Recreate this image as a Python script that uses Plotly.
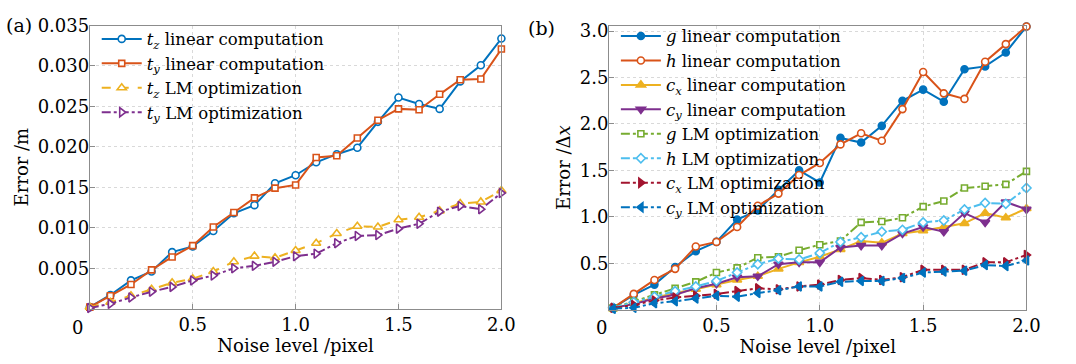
import plotly.graph_objects as go

noise = [0.0, 0.1, 0.2, 0.3, 0.4, 0.5, 0.6, 0.7, 0.8, 0.9, 1.0,
         1.1, 1.2, 1.3, 1.4, 1.5, 1.6, 1.7, 1.8, 1.9, 2.0]

# panel (a)
tz_lin = [0.0002, 0.0017, 0.0035, 0.0046, 0.0070, 0.0077, 0.0096, 0.0118, 0.0128, 0.0155, 0.0165,
          0.0181, 0.0191, 0.0199, 0.0231, 0.0261, 0.0253, 0.0247, 0.0281, 0.0301, 0.0334]
ty_lin = [0.0002, 0.0016, 0.0030, 0.0048, 0.0064, 0.0078, 0.0101, 0.0119, 0.0137, 0.0149, 0.0153,
          0.0187, 0.0189, 0.0211, 0.0233, 0.0247, 0.0246, 0.0265, 0.0283, 0.0284, 0.0321]
tz_lm = [0.0002, 0.0008, 0.0016, 0.0024, 0.0032, 0.0037, 0.0046, 0.0058, 0.0065, 0.0063, 0.0072,
         0.0081, 0.0093, 0.0102, 0.0101, 0.0110, 0.0113, 0.0121, 0.0130, 0.0132, 0.0146]
ty_lm = [0.0001, 0.0006, 0.0014, 0.0021, 0.0027, 0.0035, 0.0041, 0.0050, 0.0053, 0.0058, 0.0065,
         0.0068, 0.0081, 0.0090, 0.0091, 0.0099, 0.0105, 0.0120, 0.0127, 0.0123, 0.0143]

# panel (b)
g_lin = [0.02, 0.16, 0.27, 0.46, 0.63, 0.73, 0.97, 1.07, 1.29, 1.50, 1.37,
         1.85, 1.80, 1.98, 2.25, 2.37, 2.24, 2.59, 2.62, 2.77, 3.05]
h_lin = [0.02, 0.17, 0.32, 0.44, 0.68, 0.73, 0.89, 1.12, 1.25, 1.45, 1.58,
         1.78, 1.90, 1.82, 2.16, 2.56, 2.33, 2.27, 2.67, 2.86, 3.05]
cx_lin = [0.01, 0.07, 0.13, 0.18, 0.22, 0.27, 0.32, 0.36, 0.44, 0.51, 0.57,
          0.65, 0.74, 0.72, 0.82, 0.85, 0.89, 0.93, 1.04, 0.99, 1.09]
cy_lin = [0.02, 0.06, 0.12, 0.16, 0.23, 0.28, 0.35, 0.36, 0.49, 0.51, 0.51,
          0.67, 0.69, 0.69, 0.82, 0.89, 0.84, 1.04, 0.94, 1.16, 1.08]
g_lm = [0.02, 0.09, 0.16, 0.23, 0.30, 0.40, 0.45, 0.56, 0.57, 0.64, 0.70,
        0.74, 0.94, 0.95, 0.99, 1.11, 1.17, 1.31, 1.33, 1.35, 1.49]
h_lm = [0.02, 0.08, 0.14, 0.20, 0.25, 0.31, 0.40, 0.49, 0.55, 0.54, 0.61,
        0.73, 0.78, 0.84, 0.86, 0.94, 0.96, 1.08, 1.15, 1.14, 1.31]
cx_lm = [0.02, 0.05, 0.10, 0.13, 0.15, 0.17, 0.20, 0.23, 0.22, 0.25, 0.27,
         0.32, 0.34, 0.32, 0.35, 0.43, 0.43, 0.43, 0.51, 0.51, 0.59]
cy_lm = [0.01, 0.02, 0.07, 0.09, 0.12, 0.15, 0.14, 0.18, 0.21, 0.25, 0.25,
         0.30, 0.31, 0.31, 0.34, 0.40, 0.41, 0.42, 0.48, 0.47, 0.53]

a_yticks = [0.005, 0.010, 0.015, 0.020, 0.025, 0.030, 0.035]
a_yticktext = ["0.005", "0.010", "0.015", "0.020", "0.025", "0.030", "0.035"]
b_yticks = [0.5, 1.0, 1.5, 2.0, 2.5, 3.0]
b_yticktext = ["0.5", "1.0", "1.5", "2.0", "2.5", "3.0"]
xticks = [0.5, 1.0, 1.5, 2.0]
xticktext = ["0.5", "1.0", "1.5", "2.0"]

BLUE = "#0072BD"
RED = "#D95319"
YEL = "#EDB120"
PUR = "#7E2F8E"
GRN = "#77AC30"
LBL = "#4DBEEE"
DRD = "#A2142F"

FONT = "DejaVu Serif"

fig = go.Figure()


def add(y, name, color, symbol, dash, xa, ya, legend, size=7, filled=True):
    fig.add_trace(go.Scatter(
        x=noise, y=y, name=name, mode="lines+markers",
        line=dict(color=color, width=2, dash=dash),
        marker=dict(symbol=symbol, size=size, color=color if filled else "white",
                    line=dict(color=color, width=1.6)),
        xaxis=xa, yaxis=ya, legend=legend, cliponaxis=False))


add(tz_lin, "<i>t</i><sub><i>z</i></sub> linear computation", BLUE, "circle", "solid", "x", "y", "legend", 7, False)
add(ty_lin, "<i>t</i><sub><i>y</i></sub> linear computation", RED, "square", "solid", "x", "y", "legend", 6, False)
add(tz_lm, "<i>t</i><sub><i>z</i></sub> LM optimization", YEL, "triangle-up", "dash", "x", "y", "legend", 8, False)
add(ty_lm, "<i>t</i><sub><i>y</i></sub> LM optimization", PUR, "triangle-right", "dashdot", "x", "y", "legend", 8, False)

add(g_lin, "<i>g</i> linear computation", BLUE, "circle", "solid", "x2", "y2", "legend2", 7, True)
add(h_lin, "<i>h</i> linear computation", RED, "circle", "solid", "x2", "y2", "legend2", 7, False)
add(cx_lin, "<i>c</i><sub><i>x</i></sub> linear computation", YEL, "triangle-up", "solid", "x2", "y2", "legend2", 8, True)
add(cy_lin, "<i>c</i><sub><i>y</i></sub> linear computation", PUR, "triangle-down", "solid", "x2", "y2", "legend2", 8, True)
add(g_lm, "<i>g</i> LM optimization", GRN, "square", "dashdot", "x2", "y2", "legend2", 6, False)
add(h_lm, "<i>h</i> LM optimization", LBL, "diamond", "dashdot", "x2", "y2", "legend2", 7, False)
add(cx_lm, "<i>c</i><sub><i>x</i></sub> LM optimization", DRD, "triangle-right", "dashdot", "x2", "y2", "legend2", 8, True)
add(cy_lm, "<i>c</i><sub><i>y</i></sub> LM optimization", BLUE, "triangle-left", "dashdot", "x2", "y2", "legend2", 8, True)

axis_common = dict(
    showline=True, linecolor="#8c8c8c", linewidth=1, mirror=True,
    ticks="inside", ticklen=5, tickcolor="#8c8c8c",
    showgrid=True, gridcolor="#d9d9d9", griddash="dot", gridwidth=1,
    zeroline=False, tickfont=dict(family=FONT, size=18, color="black"),
)

TITLE_FONT = dict(family=FONT, size=18)

fig.update_layout(
    width=1076, height=364,
    margin=dict(l=0, r=0, t=0, b=0),
    paper_bgcolor="white", plot_bgcolor="white",
    font=dict(family=FONT, size=17, color="black"),
    xaxis=dict(domain=[91 / 1076, 508 / 1076], range=[0, 2.0], tickvals=xticks, ticktext=xticktext,
               anchor="y", title=dict(text="Noise level /pixel", font=TITLE_FONT, standoff=4),
               **axis_common),
    yaxis=dict(domain=[1 - 307 / 364, 1 - 15 / 364], range=[0, 0.035], tickvals=a_yticks,
               ticktext=a_yticktext, anchor="x", ticklabelstandoff=-4,
               title=dict(text="Error /m", font=TITLE_FONT, standoff=4),
               **axis_common),
    xaxis2=dict(domain=[617 / 1076, 1040 / 1076], range=[-0.02, 2.0], tickvals=xticks, ticktext=xticktext,
                anchor="y2", title=dict(text="Noise level /pixel", font=TITLE_FONT, standoff=4),
                **axis_common),
    yaxis2=dict(domain=[1 - 308 / 364, 1 - 15 / 364], range=[0, 3.06], tickvals=b_yticks,
                ticktext=b_yticktext, anchor="x2", ticklabelstandoff=-4,
                title=dict(text="Error /Δ<i>x</i>", font=TITLE_FONT, standoff=4),
                **axis_common),
    legend=dict(x=98 / 1076, y=1 - 11 / 364, xanchor="left", yanchor="top",
                bgcolor="rgba(0,0,0,0)", font=dict(family=FONT, size=16.5),
                itemwidth=40, tracegroupgap=0),
    legend2=dict(x=624 / 1076, y=1 - 8 / 364, xanchor="left", yanchor="top",
                 bgcolor="rgba(0,0,0,0)", font=dict(family=FONT, size=16.5),
                 itemwidth=40, tracegroupgap=0),
    showlegend=True,
)

fig.add_annotation(text="(a)", x=4 / 1076, y=1 - 14 / 364, xref="paper", yref="paper",
                   xanchor="left", yanchor="middle", showarrow=False,
                   font=dict(family=FONT, size=19))
fig.add_annotation(text="(b)", x=533 / 1076, y=1 - 18 / 364, xref="paper", yref="paper",
                   xanchor="left", yanchor="middle", showarrow=False,
                   font=dict(family=FONT, size=19))
fig.add_annotation(text="0", x=79 / 1076, y=1 - 326 / 364, xref="paper", yref="paper",
                   xanchor="center", yanchor="middle", showarrow=False,
                   font=dict(family=FONT, size=18))
fig.add_annotation(text="0", x=609 / 1076, y=1 - 326 / 364, xref="paper", yref="paper",
                   xanchor="center", yanchor="middle", showarrow=False,
                   font=dict(family=FONT, size=18))

fig.write_html("out.html", config={"displayModeBar": False},
               post_script="document.body.style.margin='0';")
